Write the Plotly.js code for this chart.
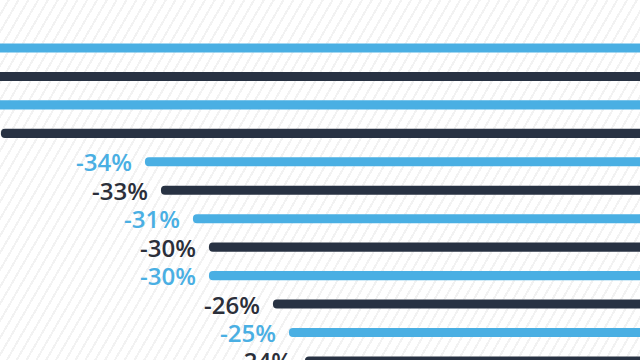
<!DOCTYPE html>
<html>
<head>
<meta charset="utf-8">
<script src="https://cdn.plot.ly/plotly-3.0.1.min.js"></script>
<style>
  html, body { margin: 0; padding: 0; width: 640px; height: 360px; overflow: hidden; }
  body {
    background-color: #ffffff;
    background-image: repeating-linear-gradient(120deg, #ffffff 0px, #ffffff 6.5px, #f2f2f2 6.5px, #f2f2f2 8.5px);
  }
  #chart { width: 640px; height: 400px; }
</style>
</head>
<body>
<div id="chart"></div>
<script>
// Categories (labels are outside the visible crop)
const categories = ["Item 1", "Item 2", "Item 3", "Item 4", "Item 5", "Item 6",
                    "Item 7", "Item 8", "Item 9", "Item 10", "Item 11", "Item 12"];
// Percentage change values (first three are cut off; estimated)
const values = [-52, -48, -45, -43, -34, -33, -31, -30, -30, -26, -25, -24];
// Value labels
const valueLabels = ["-52%", "-48%", "-45%", "-43%", "-34%", "-33%",
                     "-31%", "-30%", "-30%", "-26%", "-25%", "-24%"];
// Alternating series colours
const barColors = ["#4aafe3", "#283243", "#4aafe3", "#283243", "#4aafe3", "#283243",
                   "#4aafe3", "#283243", "#4aafe3", "#283243", "#4aafe3", "#283243"];
const labelColors = ["#4aafe3", "#2b2f3a", "#4aafe3", "#2b2f3a", "#4aafe3", "#2b2f3a",
                     "#4aafe3", "#2b2f3a", "#4aafe3", "#2b2f3a", "#4aafe3", "#2b2f3a"];

const bars = {
  type: "bar",
  orientation: "h",
  y: categories,
  x: values,
  width: 0.32,
  marker: { color: barColors, line: { width: 0 } },
  hoverinfo: "none"
};

const annotations = categories.map((c, i) => ({
  x: values[i],
  y: c,
  xref: "x",
  yref: "y",
  text: valueLabels[i],
  showarrow: false,
  xanchor: "right",
  yanchor: "middle",
  xshift: -11,
  yshift: 0,
  font: { family: "Open Sans, sans-serif", size: 24, weight: 600, color: labelColors[i] }
}));

const layout = {
  width: 640,
  height: 400,
  margin: { l: 0, r: 0, t: 0, b: 0, pad: 0 },
  paper_bgcolor: "rgba(0,0,0,0)",
  plot_bgcolor: "rgba(0,0,0,0)",
  showlegend: false,
  barcornerradius: 5,
  annotations: annotations,
  xaxis: {
    range: [-43.06, -3.06],
    showgrid: false, zeroline: false, showticklabels: false, showline: false, ticks: ""
  },
  yaxis: {
    type: "category",
    categoryorder: "array",
    categoryarray: categories,
    range: [12.373, -1.687],
    showgrid: false, zeroline: false, showticklabels: false, showline: false, ticks: ""
  }
};

Plotly.newPlot("chart", [bars], layout, { displayModeBar: false, staticPlot: true });
</script>
</body>
</html>
